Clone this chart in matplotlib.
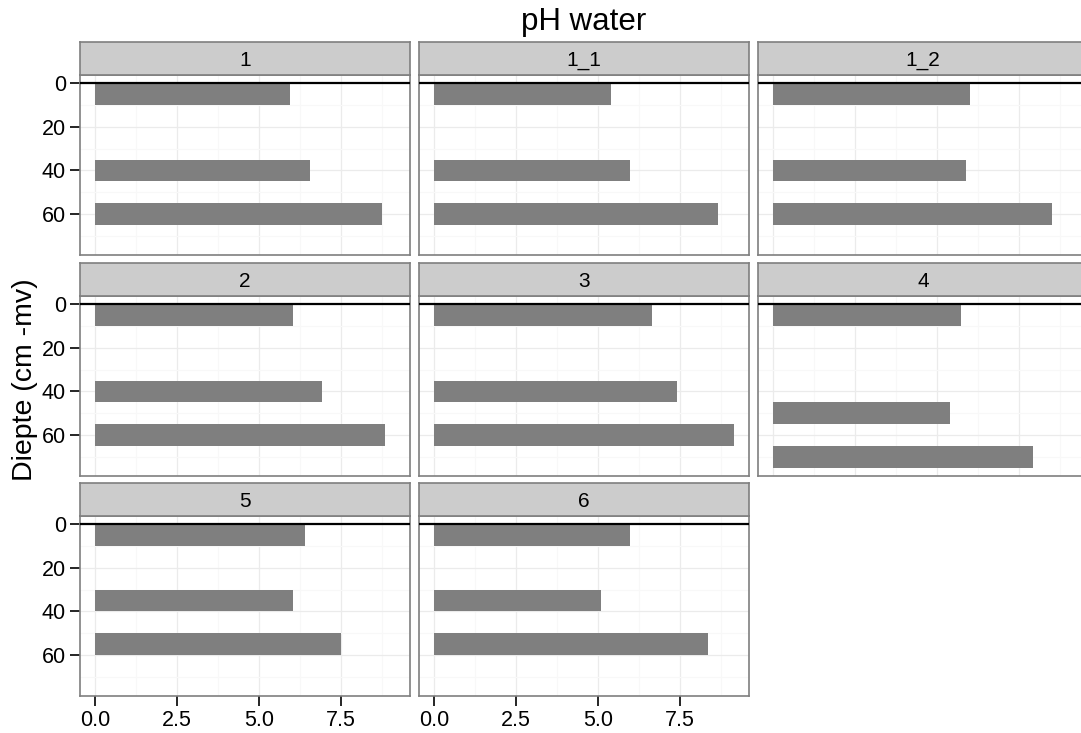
import numpy as np
import matplotlib
matplotlib.use("Agg")
import matplotlib.pyplot as plt

plt.rcParams["font.family"] = ["Liberation Sans", "DejaVu Sans"]

# data
panels = ["1", "1_1", "1_2", "2", "3", "4", "5", "6"]
depth_top = [
    [0, 35, 55], [0, 35, 55], [0, 35, 55],
    [0, 35, 55], [0, 35, 55], [0, 45, 65],
    [0, 30, 50], [0, 30, 50],
]
depth_bottom = [
    [10, 45, 65], [10, 45, 65], [10, 45, 65],
    [10, 45, 65], [10, 45, 65], [10, 55, 75],
    [10, 40, 60], [10, 40, 60],
]
ph_values = [
    [5.96, 6.55, 8.75], [5.39, 5.98, 8.68], [6.03, 5.90, 8.52],
    [6.06, 6.94, 8.84], [6.67, 7.41, 9.16], [5.74, 5.40, 7.94],
    [6.40, 6.06, 7.52], [5.99, 5.10, 8.38],
]
x_ticks = [0.0, 2.5, 5.0, 7.5]
x_tick_labels = ["0.0", "2.5", "5.0", "7.5"]
y_ticks = [0, 20, 40, 60]

W, H = 1081, 733
fig = plt.figure(figsize=(W / 100, H / 100), dpi=100)

col_left = [80, 419, 758]
row_top = [75, 296, 516]
pw, ph = 330, 180
strip_h = 33

xmax = max(max(v) for v in ph_values)
ymax = max(max(b) for b in depth_bottom)
xlim = (-0.05 * xmax, 1.05 * xmax)
ylim = (ymax * 1.05, -0.05 * ymax)

border = "#7f7f7f"
ncol = 3
nrow = 3

for i, name in enumerate(panels):
    r, c = divmod(i, ncol)
    left, top = col_left[c], row_top[r]
    ax = fig.add_axes([left / W, 1 - (top + ph) / H, pw / W, ph / H])

    tops = np.array(depth_top[i])
    bottoms = np.array(depth_bottom[i])
    ax.barh((tops + bottoms) / 2, ph_values[i], height=bottoms - tops,
            left=0, color="#7f7f7f", edgecolor="none", zorder=3)
    ax.axhline(0, color="black", lw=1.6, zorder=4)

    ax.set_xlim(xlim)
    ax.set_ylim(ylim)
    ax.set_xticks(x_ticks)
    ax.set_xticks([1.25, 3.75, 6.25, 8.75], minor=True)
    ax.set_yticks(y_ticks)
    ax.set_yticks([10, 30, 50, 70], minor=True)
    ax.grid(which="major", color="#ebebeb", lw=0.9, zorder=0)
    ax.grid(which="minor", color="#f8f8f8", lw=0.9, zorder=0)
    ax.set_axisbelow(True)
    for s in ax.spines.values():
        s.set_color(border)
        s.set_linewidth(1.2)

    ax.tick_params(which="minor", length=0)
    ax.tick_params(which="major", length=7, width=1.2, color="black",
                   labelsize=15.5, labelcolor="black", pad=3)
    # axes only on outer panels, like the old facet_wrap
    if c == 0:
        ax.set_yticklabels([str(t) for t in y_ticks])
    else:
        ax.tick_params(axis="y", length=0, labelleft=False)
    if r == nrow - 1:
        ax.set_xticklabels(x_tick_labels)
    else:
        ax.tick_params(axis="x", length=0, labelbottom=False)

    # strip
    sax = fig.add_axes([left / W, 1 - top / H, pw / W, strip_h / H])
    sax.set_facecolor("#cccccc")
    sax.set_xticks([])
    sax.set_yticks([])
    for s in sax.spines.values():
        s.set_color(border)
        s.set_linewidth(1.2)
    sax.text(0.5, 0.45, name, ha="center", va="center", fontsize=15,
             transform=sax.transAxes)

fig.text(584 / W, 1 - 22 / H, "pH water", ha="center", va="center", fontsize=22.5)
fig.text(25 / W, 1 - 380 / H, "Diepte (cm -mv)", ha="center", va="center",
         rotation=90, fontsize=20.5)

fig.savefig("out.png", dpi=100)
